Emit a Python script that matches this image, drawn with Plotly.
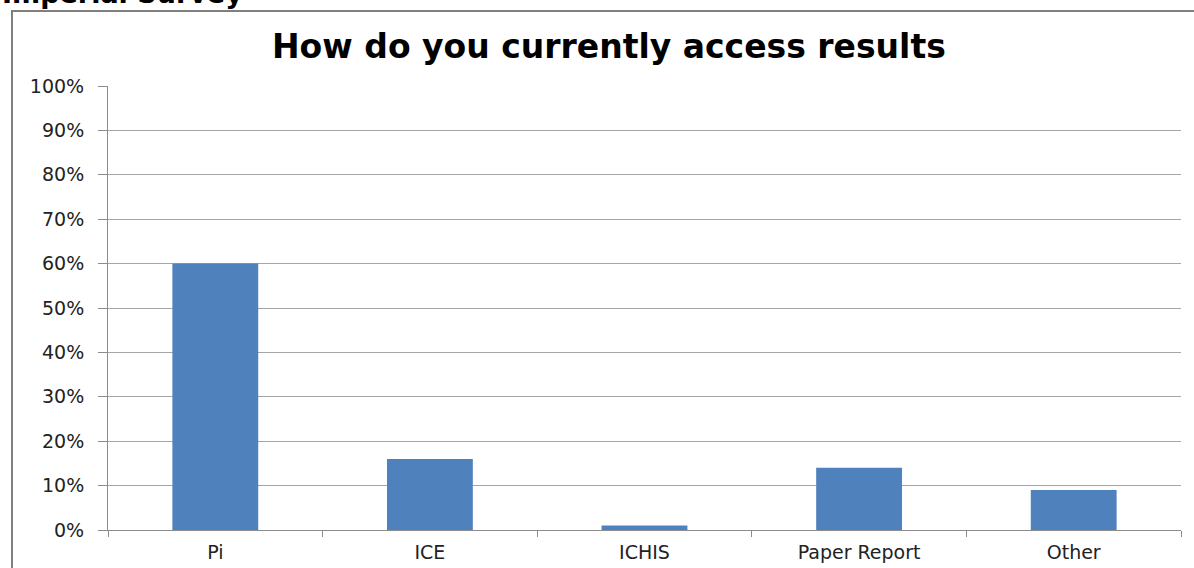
import plotly.graph_objects as go

categories = ["Pi", "ICE", "ICHIS", "Paper Report", "Other"]
shares = [60, 16, 1, 14, 9]
tick_values = [0, 10, 20, 30, 40, 50, 60, 70, 80, 90, 100]
tick_labels = [f"{v}%" for v in tick_values]

W, H = 1194, 568
left, right, top, bottom = 108, 13, 86, 38
plot_w = W - left - right
plot_h = H - top - bottom


def px_x(p):
    return (p - left) / plot_w


def px_y(p):
    return (H - bottom - p) / plot_h


fig = go.Figure(
    go.Bar(
        x=categories,
        y=shares,
        marker=dict(color="#4F81BD", line=dict(width=0)),
        width=0.4,
        hoverinfo="x+y",
    )
)

fig.update_layout(
    width=W,
    height=H,
    margin=dict(l=left, r=right, t=top, b=bottom),
    paper_bgcolor="white",
    plot_bgcolor="white",
    showlegend=False,
    font=dict(family="DejaVu Sans, Verdana, sans-serif", size=19, color="#222"),
    xaxis=dict(
        automargin=False,
        showgrid=False,
        showline=True,
        linecolor="#8c8c8c",
        linewidth=1,
        ticks="outside",
        tickson="boundaries",
        ticklen=6,
        tickcolor="#8c8c8c",
        ticklabelstandoff=5,
        tickfont=dict(size=19, color="#222"),
        fixedrange=True,
    ),
    yaxis=dict(
        automargin=False,
        range=[0, 100],
        tickvals=tick_values,
        ticktext=tick_labels,
        showgrid=True,
        gridcolor="#a6a6a6",
        gridwidth=1,
        showline=True,
        linecolor="#8c8c8c",
        linewidth=1,
        ticks="outside",
        ticklen=9,
        tickcolor="#8c8c8c",
        ticklabelstandoff=10,
        tickfont=dict(size=19, color="#222"),
        zeroline=False,
        fixedrange=True,
    ),
    shapes=[
        dict(
            type="rect",
            xref="paper",
            yref="paper",
            x0=px_x(12),
            x1=px_x(1200),
            y0=px_y(600),
            y1=px_y(11),
            line=dict(color="#7f7f7f", width=2),
            fillcolor="rgba(0,0,0,0)",
            layer="below",
        )
    ],
    annotations=[
        dict(
            text="<b>How do you currently access results</b>",
            xref="paper",
            yref="paper",
            x=px_x(609),
            y=px_y(46),
            xanchor="center",
            yanchor="middle",
            showarrow=False,
            font=dict(family="DejaVu Sans, sans-serif", size=33, color="black"),
        ),
        dict(
            text="<b>Imperial Survey</b>",
            xref="paper",
            yref="paper",
            x=px_x(0),
            y=px_y(-7),
            xanchor="left",
            yanchor="middle",
            showarrow=False,
            font=dict(family="DejaVu Sans, sans-serif", size=27, color="black"),
        ),
    ],
)

fig.write_html("out.html")
